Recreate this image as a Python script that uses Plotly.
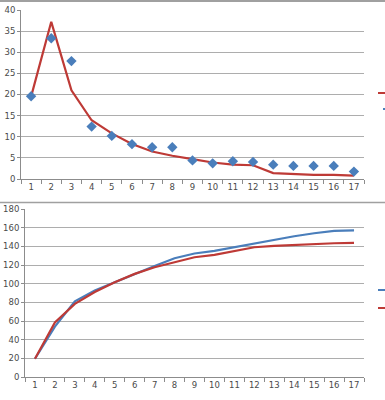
import plotly.graph_objects as go

categories = [str(i) for i in range(1, 18)]

# Top chart
top_points = [19.6, 33.3, 27.9, 12.4, 10.2, 8.25, 7.5, 7.5, 4.4, 3.7, 4.2, 4.05, 3.4, 3.1, 3.1, 3.1, 1.75]
top_line = [19.5, 37.2, 21.0, 13.9, 10.8, 8.3, 6.5, 5.5, 4.7, 3.9, 3.4, 3.25, 1.4, 1.2, 1.0, 1.0, 0.8]

# Bottom chart
bottom_blue = [19.6, 54, 81, 92.7, 101.6, 110.5, 119, 127.3, 132.3, 135.1, 139, 143.3, 147.2, 150.8, 154, 156.5, 157.2]
bottom_red = [19.6, 58.5, 78.4, 91, 101.6, 110.5, 117.6, 123, 128.3, 130.8, 135, 139, 140.5, 141.5, 142.6, 143.3, 143.7]

BLUE = "#4A7EBB"
RED = "#BE3A36"
GRID = "#ADADAD"
AXIS = "#8C8C8C"
FONT = dict(family="DejaVu Sans", size=8.5, color="#4A4A4A")

fig = go.Figure()
fig.add_trace(go.Scatter(x=categories, y=top_line, mode="lines",
                         line=dict(color=RED, width=2.2), xaxis="x", yaxis="y", showlegend=False))
fig.add_trace(go.Scatter(x=categories, y=top_points, mode="markers",
                         marker=dict(symbol="diamond", size=8, color=BLUE), xaxis="x", yaxis="y", showlegend=False))
fig.add_trace(go.Scatter(x=categories, y=bottom_blue, mode="lines",
                         line=dict(color=BLUE, width=2.2), xaxis="x2", yaxis="y2", showlegend=False))
fig.add_trace(go.Scatter(x=categories, y=bottom_red, mode="lines",
                         line=dict(color=RED, width=2.2), xaxis="x2", yaxis="y2", showlegend=False))

W, H = 385, 400
def px(x):
    return x / W
def py(y):
    return 1 - y / H

xcommon = dict(type="category", range=[-0.5, 16.5], showgrid=False, showline=True,
               linecolor=AXIS, linewidth=1, ticks="outside", tickson="boundaries",
               ticklen=4, tickcolor=AXIS, tickfont=FONT, fixedrange=True, automargin=False)
ycommon = dict(showgrid=True, gridcolor=GRID, gridwidth=1, showline=True, linecolor=AXIS,
               linewidth=1, ticks="outside", ticklen=3, tickcolor=AXIS, tickfont=FONT,
               zeroline=False, fixedrange=True, automargin=False)

fig.update_layout(
    width=W, height=H,
    margin=dict(l=0, r=0, t=0, b=0, pad=0),
    paper_bgcolor="white", plot_bgcolor="white",
    xaxis=dict(domain=[px(21), px(364)], anchor="y", **xcommon),
    yaxis=dict(domain=[py(179), py(10)], anchor="x", range=[0, 40], dtick=5, **ycommon),
    xaxis2=dict(domain=[px(25), px(364)], anchor="y2", **xcommon),
    yaxis2=dict(domain=[py(377), py(209)], anchor="x2", range=[0, 180], dtick=20, **ycommon),
    shapes=[
        dict(type="line", xref="paper", yref="paper", x0=0, x1=1, y0=py(1), y1=py(1),
             line=dict(color="#A0A0A0", width=2)),
        dict(type="line", xref="paper", yref="paper", x0=0, x1=1, y0=py(202.5), y1=py(202.5),
             line=dict(color="#A0A0A0", width=1.5)),
        # partial legend keys at right edge
        dict(type="line", xref="paper", yref="paper", x0=px(378), x1=1, y0=py(93), y1=py(93),
             line=dict(color=RED, width=2)),
        dict(type="line", xref="paper", yref="paper", x0=px(383), x1=1, y0=py(109), y1=py(109),
             line=dict(color=BLUE, width=2)),
        dict(type="line", xref="paper", yref="paper", x0=px(378), x1=1, y0=py(290), y1=py(290),
             line=dict(color=BLUE, width=2)),
        dict(type="line", xref="paper", yref="paper", x0=px(378), x1=1, y0=py(308), y1=py(308),
             line=dict(color=RED, width=2)),
    ],
)

fig.write_html("out.html", config={"displayModeBar": False},
               post_script="document.body.style.margin='0';document.body.style.padding='0';")
